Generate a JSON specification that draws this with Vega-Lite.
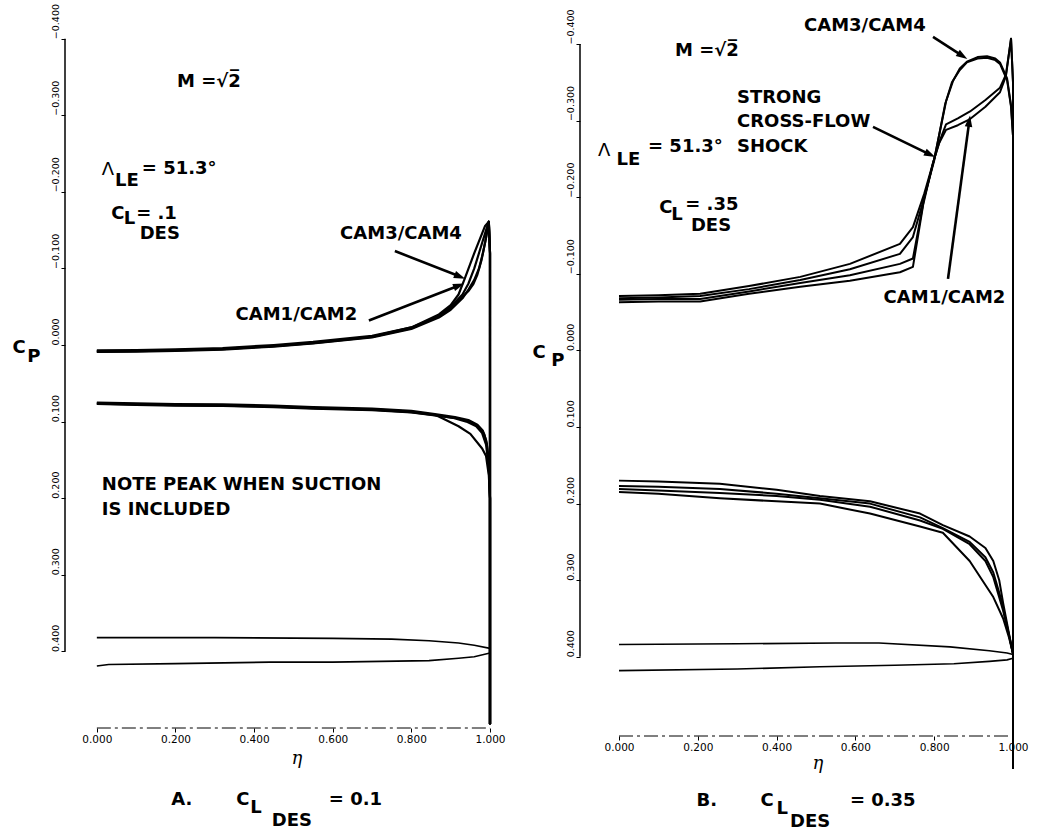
{
"$schema":"https://vega.github.io/schema/vega-lite/v6.json",
"background":"white",
"padding":{"left":12,"top":3,"right":5,"bottom":5},
"config":{"view":{"stroke":null}},
"spacing":90,
"bounds":"flush",
"datasets":{
"axesA":[{"k":"y","eta":-0.081,"cp":-0.4,"eta2":-0.081,"cp2":0.4},{"k":"x","eta":0,"cp":0.5,"eta2":1.0,"cp2":0.5}],
"axesB":[{"k":"y","eta":-0.099,"cp":-0.4,"eta2":-0.099,"cp2":0.4},{"k":"x","eta":0,"cp":0.5034,"eta2":1.0,"cp2":0.5034}],
"curvesA":[
{"s":"AU1","i":0,"eta":0,"cp":0.009},{"s":"AU1","i":1,"eta":0.1,"cp":0.0085},{"s":"AU1","i":2,"eta":0.2,"cp":0.0075},{"s":"AU1","i":3,"eta":0.32,"cp":0.006},{"s":"AU1","i":4,"eta":0.45,"cp":0.002},{"s":"AU1","i":5,"eta":0.55,"cp":-0.002},{"s":"AU1","i":6,"eta":0.7,"cp":-0.01},{"s":"AU1","i":7,"eta":0.8,"cp":-0.021},{"s":"AU1","i":8,"eta":0.87,"cp":-0.036},{"s":"AU1","i":9,"eta":0.9,"cp":-0.046},{"s":"AU1","i":10,"eta":0.93,"cp":-0.061},{"s":"AU1","i":11,"eta":0.946,"cp":-0.073},{"s":"AU1","i":12,"eta":0.96,"cp":-0.085},{"s":"AU1","i":13,"eta":0.972,"cp":-0.1},{"s":"AU1","i":14,"eta":0.982,"cp":-0.12},{"s":"AU1","i":15,"eta":0.99,"cp":-0.14},{"s":"AU1","i":16,"eta":0.997,"cp":-0.161},{"s":"AU1","i":17,"eta":1.0,"cp":-0.12},{"s":"AU1","i":18,"eta":1.0,"cp":0.495},
{"s":"AU2","i":0,"eta":0,"cp":0.007},{"s":"AU2","i":1,"eta":0.1,"cp":0.0065},{"s":"AU2","i":2,"eta":0.2,"cp":0.0055},{"s":"AU2","i":3,"eta":0.32,"cp":0.004},{"s":"AU2","i":4,"eta":0.45,"cp":0.0},{"s":"AU2","i":5,"eta":0.55,"cp":-0.004},{"s":"AU2","i":6,"eta":0.7,"cp":-0.012},{"s":"AU2","i":7,"eta":0.8,"cp":-0.023},{"s":"AU2","i":8,"eta":0.87,"cp":-0.038},{"s":"AU2","i":9,"eta":0.9,"cp":-0.048},{"s":"AU2","i":10,"eta":0.93,"cp":-0.063},{"s":"AU2","i":11,"eta":0.946,"cp":-0.071},{"s":"AU2","i":12,"eta":0.958,"cp":-0.08},{"s":"AU2","i":13,"eta":0.968,"cp":-0.092},{"s":"AU2","i":14,"eta":0.978,"cp":-0.11},{"s":"AU2","i":15,"eta":0.988,"cp":-0.135},{"s":"AU2","i":16,"eta":0.997,"cp":-0.161},{"s":"AU2","i":17,"eta":1.0,"cp":-0.12},{"s":"AU2","i":18,"eta":1.0,"cp":0.495},
{"s":"AU3","i":0,"eta":0,"cp":0.008},{"s":"AU3","i":1,"eta":0.1,"cp":0.0075},{"s":"AU3","i":2,"eta":0.2,"cp":0.0065},{"s":"AU3","i":3,"eta":0.32,"cp":0.005},{"s":"AU3","i":4,"eta":0.45,"cp":0.001},{"s":"AU3","i":5,"eta":0.55,"cp":-0.003},{"s":"AU3","i":6,"eta":0.7,"cp":-0.011},{"s":"AU3","i":7,"eta":0.8,"cp":-0.023},{"s":"AU3","i":8,"eta":0.87,"cp":-0.04},{"s":"AU3","i":9,"eta":0.9,"cp":-0.052},{"s":"AU3","i":10,"eta":0.92,"cp":-0.066},{"s":"AU3","i":11,"eta":0.936,"cp":-0.087},{"s":"AU3","i":12,"eta":0.96,"cp":-0.12},{"s":"AU3","i":13,"eta":0.987,"cp":-0.155},{"s":"AU3","i":14,"eta":0.997,"cp":-0.161},{"s":"AU3","i":15,"eta":1.0,"cp":-0.12},{"s":"AU3","i":16,"eta":1.0,"cp":0.495},
{"s":"AU4","i":0,"eta":0,"cp":0.0085},{"s":"AU4","i":1,"eta":0.1,"cp":0.008},{"s":"AU4","i":2,"eta":0.2,"cp":0.007},{"s":"AU4","i":3,"eta":0.32,"cp":0.0055},{"s":"AU4","i":4,"eta":0.45,"cp":0.0015},{"s":"AU4","i":5,"eta":0.55,"cp":-0.0025},{"s":"AU4","i":6,"eta":0.7,"cp":-0.0105},{"s":"AU4","i":7,"eta":0.8,"cp":-0.022},{"s":"AU4","i":8,"eta":0.87,"cp":-0.038},{"s":"AU4","i":9,"eta":0.9,"cp":-0.05},{"s":"AU4","i":10,"eta":0.93,"cp":-0.066},{"s":"AU4","i":11,"eta":0.945,"cp":-0.08},{"s":"AU4","i":12,"eta":0.96,"cp":-0.1},{"s":"AU4","i":13,"eta":0.975,"cp":-0.125},{"s":"AU4","i":14,"eta":0.99,"cp":-0.15},{"s":"AU4","i":15,"eta":0.997,"cp":-0.161},{"s":"AU4","i":16,"eta":1.0,"cp":-0.12},{"s":"AU4","i":17,"eta":1.0,"cp":0.495},
{"s":"AL1","i":0,"eta":0,"cp":0.076},{"s":"AL1","i":1,"eta":0.1,"cp":0.077},{"s":"AL1","i":2,"eta":0.2,"cp":0.078},{"s":"AL1","i":3,"eta":0.32,"cp":0.0785},{"s":"AL1","i":4,"eta":0.45,"cp":0.08},{"s":"AL1","i":5,"eta":0.55,"cp":0.082},{"s":"AL1","i":6,"eta":0.7,"cp":0.084},{"s":"AL1","i":7,"eta":0.8,"cp":0.087},{"s":"AL1","i":8,"eta":0.86,"cp":0.091},{"s":"AL1","i":9,"eta":0.88,"cp":0.096},{"s":"AL1","i":10,"eta":0.92,"cp":0.106},{"s":"AL1","i":11,"eta":0.95,"cp":0.116},{"s":"AL1","i":12,"eta":0.98,"cp":0.135},{"s":"AL1","i":13,"eta":0.99,"cp":0.145},{"s":"AL1","i":14,"eta":0.997,"cp":0.17},{"s":"AL1","i":15,"eta":1.0,"cp":0.2},{"s":"AL1","i":16,"eta":1.0,"cp":0.495},
{"s":"AL2","i":0,"eta":0,"cp":0.077},{"s":"AL2","i":1,"eta":0.1,"cp":0.078},{"s":"AL2","i":2,"eta":0.2,"cp":0.079},{"s":"AL2","i":3,"eta":0.32,"cp":0.0795},{"s":"AL2","i":4,"eta":0.45,"cp":0.081},{"s":"AL2","i":5,"eta":0.55,"cp":0.083},{"s":"AL2","i":6,"eta":0.7,"cp":0.085},{"s":"AL2","i":7,"eta":0.8,"cp":0.088},{"s":"AL2","i":8,"eta":0.86,"cp":0.092},{"s":"AL2","i":9,"eta":0.911,"cp":0.095},{"s":"AL2","i":10,"eta":0.94,"cp":0.099},{"s":"AL2","i":11,"eta":0.962,"cp":0.104},{"s":"AL2","i":12,"eta":0.975,"cp":0.109},{"s":"AL2","i":13,"eta":0.985,"cp":0.116},{"s":"AL2","i":14,"eta":0.992,"cp":0.129},{"s":"AL2","i":15,"eta":0.997,"cp":0.155},{"s":"AL2","i":16,"eta":1.0,"cp":0.2},{"s":"AL2","i":17,"eta":1.0,"cp":0.495},
{"s":"AL3","i":0,"eta":0,"cp":0.075},{"s":"AL3","i":1,"eta":0.1,"cp":0.076},{"s":"AL3","i":2,"eta":0.2,"cp":0.077},{"s":"AL3","i":3,"eta":0.32,"cp":0.0775},{"s":"AL3","i":4,"eta":0.45,"cp":0.079},{"s":"AL3","i":5,"eta":0.55,"cp":0.081},{"s":"AL3","i":6,"eta":0.7,"cp":0.083},{"s":"AL3","i":7,"eta":0.8,"cp":0.086},{"s":"AL3","i":8,"eta":0.86,"cp":0.09},{"s":"AL3","i":9,"eta":0.911,"cp":0.094},{"s":"AL3","i":10,"eta":0.945,"cp":0.098},{"s":"AL3","i":11,"eta":0.968,"cp":0.104},{"s":"AL3","i":12,"eta":0.982,"cp":0.112},{"s":"AL3","i":13,"eta":0.99,"cp":0.124},{"s":"AL3","i":14,"eta":0.996,"cp":0.145},{"s":"AL3","i":15,"eta":1.0,"cp":0.2},{"s":"AL3","i":16,"eta":1.0,"cp":0.495},
{"s":"AL4","i":0,"eta":0,"cp":0.0765},{"s":"AL4","i":1,"eta":0.1,"cp":0.0775},{"s":"AL4","i":2,"eta":0.2,"cp":0.0785},{"s":"AL4","i":3,"eta":0.32,"cp":0.079},{"s":"AL4","i":4,"eta":0.45,"cp":0.0805},{"s":"AL4","i":5,"eta":0.55,"cp":0.0825},{"s":"AL4","i":6,"eta":0.7,"cp":0.0845},{"s":"AL4","i":7,"eta":0.8,"cp":0.0875},{"s":"AL4","i":8,"eta":0.86,"cp":0.0915},{"s":"AL4","i":9,"eta":0.905,"cp":0.095},{"s":"AL4","i":10,"eta":0.94,"cp":0.1},{"s":"AL4","i":11,"eta":0.965,"cp":0.106},{"s":"AL4","i":12,"eta":0.98,"cp":0.115},{"s":"AL4","i":13,"eta":0.99,"cp":0.13},{"s":"AL4","i":14,"eta":0.997,"cp":0.16},{"s":"AL4","i":15,"eta":1.0,"cp":0.2},{"s":"AL4","i":16,"eta":1.0,"cp":0.495},
{"s":"AA","i":0,"eta":0,"cp":0.382},{"s":"AA","i":1,"eta":0.3,"cp":0.382},{"s":"AA","i":2,"eta":0.6,"cp":0.383},{"s":"AA","i":3,"eta":0.75,"cp":0.384},{"s":"AA","i":4,"eta":0.845,"cp":0.386},{"s":"AA","i":5,"eta":0.92,"cp":0.389},{"s":"AA","i":6,"eta":0.96,"cp":0.392},{"s":"AA","i":7,"eta":1.0,"cp":0.396},
{"s":"AB","i":0,"eta":0,"cp":0.419},{"s":"AB","i":1,"eta":0.03,"cp":0.417},{"s":"AB","i":2,"eta":0.2,"cp":0.416},{"s":"AB","i":3,"eta":0.44,"cp":0.414},{"s":"AB","i":4,"eta":0.6,"cp":0.414},{"s":"AB","i":5,"eta":0.845,"cp":0.412},{"s":"AB","i":6,"eta":0.92,"cp":0.409},{"s":"AB","i":7,"eta":0.96,"cp":0.407},{"s":"AB","i":8,"eta":1.0,"cp":0.402}
],
"curvesB":[
{"s":"BU1","i":0,"eta":0,"cp":-0.066},{"s":"BU1","i":1,"eta":0.1,"cp":-0.067},{"s":"BU1","i":2,"eta":0.206,"cp":-0.067},{"s":"BU1","i":3,"eta":0.33,"cp":-0.077},{"s":"BU1","i":4,"eta":0.46,"cp":-0.088},{"s":"BU1","i":5,"eta":0.586,"cp":-0.098},{"s":"BU1","i":6,"eta":0.713,"cp":-0.113},{"s":"BU1","i":7,"eta":0.746,"cp":-0.12},{"s":"BU1","i":8,"eta":0.775,"cp":-0.2},{"s":"BU1","i":9,"eta":0.8,"cp":-0.25},{"s":"BU1","i":10,"eta":0.815,"cp":-0.275},{"s":"BU1","i":11,"eta":0.83,"cp":-0.295},{"s":"BU1","i":12,"eta":0.86,"cp":-0.303},{"s":"BU1","i":13,"eta":0.891,"cp":-0.312},{"s":"BU1","i":14,"eta":0.93,"cp":-0.327},{"s":"BU1","i":15,"eta":0.967,"cp":-0.343},{"s":"BU1","i":16,"eta":0.982,"cp":-0.36},{"s":"BU1","i":17,"eta":0.995,"cp":-0.407},{"s":"BU1","i":18,"eta":1.0,"cp":-0.35},{"s":"BU1","i":19,"eta":1.0,"cp":0.546},
{"s":"BU2","i":0,"eta":0,"cp":-0.063},{"s":"BU2","i":1,"eta":0.1,"cp":-0.064},{"s":"BU2","i":2,"eta":0.206,"cp":-0.064},{"s":"BU2","i":3,"eta":0.33,"cp":-0.074},{"s":"BU2","i":4,"eta":0.46,"cp":-0.083},{"s":"BU2","i":5,"eta":0.586,"cp":-0.091},{"s":"BU2","i":6,"eta":0.713,"cp":-0.102},{"s":"BU2","i":7,"eta":0.746,"cp":-0.109},{"s":"BU2","i":8,"eta":0.772,"cp":-0.19},{"s":"BU2","i":9,"eta":0.797,"cp":-0.245},{"s":"BU2","i":10,"eta":0.812,"cp":-0.27},{"s":"BU2","i":11,"eta":0.83,"cp":-0.288},{"s":"BU2","i":12,"eta":0.86,"cp":-0.294},{"s":"BU2","i":13,"eta":0.891,"cp":-0.302},{"s":"BU2","i":14,"eta":0.93,"cp":-0.318},{"s":"BU2","i":15,"eta":0.967,"cp":-0.337},{"s":"BU2","i":16,"eta":0.982,"cp":-0.358},{"s":"BU2","i":17,"eta":0.995,"cp":-0.407},{"s":"BU2","i":18,"eta":1.0,"cp":-0.35},{"s":"BU2","i":19,"eta":1.0,"cp":0.546},
{"s":"BU3","i":0,"eta":0,"cp":-0.071},{"s":"BU3","i":1,"eta":0.1,"cp":-0.072},{"s":"BU3","i":2,"eta":0.206,"cp":-0.074},{"s":"BU3","i":3,"eta":0.33,"cp":-0.084},{"s":"BU3","i":4,"eta":0.46,"cp":-0.096},{"s":"BU3","i":5,"eta":0.586,"cp":-0.113},{"s":"BU3","i":6,"eta":0.713,"cp":-0.139},{"s":"BU3","i":7,"eta":0.746,"cp":-0.161},{"s":"BU3","i":8,"eta":0.775,"cp":-0.205},{"s":"BU3","i":9,"eta":0.8,"cp":-0.25},{"s":"BU3","i":10,"eta":0.815,"cp":-0.287},{"s":"BU3","i":11,"eta":0.83,"cp":-0.325},{"s":"BU3","i":12,"eta":0.848,"cp":-0.352},{"s":"BU3","i":13,"eta":0.865,"cp":-0.368},{"s":"BU3","i":14,"eta":0.883,"cp":-0.377},{"s":"BU3","i":15,"eta":0.91,"cp":-0.383},{"s":"BU3","i":16,"eta":0.934,"cp":-0.384},{"s":"BU3","i":17,"eta":0.955,"cp":-0.381},{"s":"BU3","i":18,"eta":0.967,"cp":-0.376},{"s":"BU3","i":19,"eta":0.985,"cp":-0.355},{"s":"BU3","i":20,"eta":0.995,"cp":-0.32},{"s":"BU3","i":21,"eta":1.0,"cp":-0.28},{"s":"BU3","i":22,"eta":1.0,"cp":0.546},
{"s":"BU4","i":0,"eta":0,"cp":-0.068},{"s":"BU4","i":1,"eta":0.1,"cp":-0.069},{"s":"BU4","i":2,"eta":0.206,"cp":-0.071},{"s":"BU4","i":3,"eta":0.33,"cp":-0.08},{"s":"BU4","i":4,"eta":0.46,"cp":-0.092},{"s":"BU4","i":5,"eta":0.586,"cp":-0.106},{"s":"BU4","i":6,"eta":0.713,"cp":-0.126},{"s":"BU4","i":7,"eta":0.746,"cp":-0.148},{"s":"BU4","i":8,"eta":0.775,"cp":-0.2},{"s":"BU4","i":9,"eta":0.8,"cp":-0.248},{"s":"BU4","i":10,"eta":0.812,"cp":-0.28},{"s":"BU4","i":11,"eta":0.828,"cp":-0.322},{"s":"BU4","i":12,"eta":0.845,"cp":-0.35},{"s":"BU4","i":13,"eta":0.865,"cp":-0.366},{"s":"BU4","i":14,"eta":0.883,"cp":-0.376},{"s":"BU4","i":15,"eta":0.91,"cp":-0.381},{"s":"BU4","i":16,"eta":0.934,"cp":-0.382},{"s":"BU4","i":17,"eta":0.955,"cp":-0.379},{"s":"BU4","i":18,"eta":0.967,"cp":-0.374},{"s":"BU4","i":19,"eta":0.985,"cp":-0.353},{"s":"BU4","i":20,"eta":0.995,"cp":-0.318},{"s":"BU4","i":21,"eta":1.0,"cp":-0.28},{"s":"BU4","i":22,"eta":1.0,"cp":0.546},
{"s":"BL1","i":0,"eta":0,"cp":0.17},{"s":"BL1","i":1,"eta":0.1,"cp":0.171},{"s":"BL1","i":2,"eta":0.256,"cp":0.174},{"s":"BL1","i":3,"eta":0.4,"cp":0.182},{"s":"BL1","i":4,"eta":0.51,"cp":0.19},{"s":"BL1","i":5,"eta":0.637,"cp":0.197},{"s":"BL1","i":6,"eta":0.764,"cp":0.213},{"s":"BL1","i":7,"eta":0.822,"cp":0.228},{"s":"BL1","i":8,"eta":0.89,"cp":0.243},{"s":"BL1","i":9,"eta":0.93,"cp":0.258},{"s":"BL1","i":10,"eta":0.95,"cp":0.275},{"s":"BL1","i":11,"eta":0.965,"cp":0.3},{"s":"BL1","i":12,"eta":0.975,"cp":0.33},{"s":"BL1","i":13,"eta":0.99,"cp":0.37},{"s":"BL1","i":14,"eta":1.0,"cp":0.396},{"s":"BL1","i":15,"eta":1.0,"cp":0.546},
{"s":"BL2","i":0,"eta":0,"cp":0.177},{"s":"BL2","i":1,"eta":0.1,"cp":0.178},{"s":"BL2","i":2,"eta":0.256,"cp":0.181},{"s":"BL2","i":3,"eta":0.4,"cp":0.187},{"s":"BL2","i":4,"eta":0.51,"cp":0.193},{"s":"BL2","i":5,"eta":0.637,"cp":0.2},{"s":"BL2","i":6,"eta":0.764,"cp":0.218},{"s":"BL2","i":7,"eta":0.822,"cp":0.232},{"s":"BL2","i":8,"eta":0.89,"cp":0.25},{"s":"BL2","i":9,"eta":0.93,"cp":0.27},{"s":"BL2","i":10,"eta":0.95,"cp":0.29},{"s":"BL2","i":11,"eta":0.97,"cp":0.325},{"s":"BL2","i":12,"eta":0.985,"cp":0.36},{"s":"BL2","i":13,"eta":1.0,"cp":0.396},{"s":"BL2","i":14,"eta":1.0,"cp":0.546},
{"s":"BL3","i":0,"eta":0,"cp":0.181},{"s":"BL3","i":1,"eta":0.1,"cp":0.183},{"s":"BL3","i":2,"eta":0.256,"cp":0.186},{"s":"BL3","i":3,"eta":0.4,"cp":0.19},{"s":"BL3","i":4,"eta":0.51,"cp":0.195},{"s":"BL3","i":5,"eta":0.637,"cp":0.204},{"s":"BL3","i":6,"eta":0.764,"cp":0.222},{"s":"BL3","i":7,"eta":0.822,"cp":0.233},{"s":"BL3","i":8,"eta":0.89,"cp":0.253},{"s":"BL3","i":9,"eta":0.93,"cp":0.275},{"s":"BL3","i":10,"eta":0.95,"cp":0.296},{"s":"BL3","i":11,"eta":0.975,"cp":0.34},{"s":"BL3","i":12,"eta":0.99,"cp":0.372},{"s":"BL3","i":13,"eta":1.0,"cp":0.396},{"s":"BL3","i":14,"eta":1.0,"cp":0.546},
{"s":"BL4","i":0,"eta":0,"cp":0.185},{"s":"BL4","i":1,"eta":0.1,"cp":0.187},{"s":"BL4","i":2,"eta":0.256,"cp":0.193},{"s":"BL4","i":3,"eta":0.4,"cp":0.197},{"s":"BL4","i":4,"eta":0.51,"cp":0.2},{"s":"BL4","i":5,"eta":0.637,"cp":0.213},{"s":"BL4","i":6,"eta":0.764,"cp":0.23},{"s":"BL4","i":7,"eta":0.822,"cp":0.238},{"s":"BL4","i":8,"eta":0.89,"cp":0.275},{"s":"BL4","i":9,"eta":0.95,"cp":0.322},{"s":"BL4","i":10,"eta":0.975,"cp":0.35},{"s":"BL4","i":11,"eta":0.99,"cp":0.375},{"s":"BL4","i":12,"eta":1.0,"cp":0.396},{"s":"BL4","i":13,"eta":1.0,"cp":0.546},
{"s":"BA","i":0,"eta":0,"cp":0.384},{"s":"BA","i":1,"eta":0.3,"cp":0.383},{"s":"BA","i":2,"eta":0.55,"cp":0.382},{"s":"BA","i":3,"eta":0.66,"cp":0.382},{"s":"BA","i":4,"eta":0.84,"cp":0.387},{"s":"BA","i":5,"eta":0.94,"cp":0.392},{"s":"BA","i":6,"eta":0.985,"cp":0.395},{"s":"BA","i":7,"eta":1.0,"cp":0.397},
{"s":"BB","i":0,"eta":0,"cp":0.418},{"s":"BB","i":1,"eta":0.3,"cp":0.416},{"s":"BB","i":2,"eta":0.51,"cp":0.413},{"s":"BB","i":3,"eta":0.7,"cp":0.411},{"s":"BB","i":4,"eta":0.85,"cp":0.409},{"s":"BB","i":5,"eta":0.94,"cp":0.406},{"s":"BB","i":6,"eta":0.985,"cp":0.404},{"s":"BB","i":7,"eta":1.0,"cp":0.402}
],
"arrowsA":[{"a":"L1","eta":0.758,"cp":-0.1227,"eta2":0.922,"cp2":-0.0897},{"a":"L2","eta":0.692,"cp":-0.032,"eta2":0.9196,"cp2":-0.0774}],
"arrowsB":[{"a":"R1","eta":0.797,"cp":-0.4093,"eta2":0.8706,"cp2":-0.3849},{"a":"R2","eta":0.6447,"cp":-0.2918,"eta2":0.7883,"cp2":-0.256},{"a":"R3","eta":0.835,"cp":-0.0933,"eta2":0.8888,"cp2":-0.2984}],
"headsA":[{"a":"L1","eta":0.922,"cp":-0.0897},{"a":"L2","eta":0.9196,"cp":-0.0774}],
"headsB":[{"a":"R1","eta":0.8706,"cp":-0.3849},{"a":"R2","eta":0.7883,"cp":-0.256},{"a":"R3","eta":0.8888,"cp":-0.2984}],
"textA":[
{"r":"M","t":"M =√2̅","eta":0.285,"cp":-0.344},
{"r":"sym","t":"Λ","eta":0.028,"cp":-0.228},
{"r":"sub","t":"LE","eta":0.0763,"cp":-0.2147},
{"r":"eq","t":"= 51.3°","eta":0.1145,"cp":-0.2304},
{"r":"bigC","t":"C","eta":0.0534,"cp":-0.1717},
{"r":"sub","t":"L","eta":0.0827,"cp":-0.1651},
{"r":"eq","t":"= .1","eta":0.1,"cp":-0.1714},
{"r":"des","t":"DES","eta":0.16,"cp":-0.145},
{"r":"cam","t":"CAM3/CAM4","eta":0.7735,"cp":-0.1456},
{"r":"cam","t":"CAM1/CAM2","eta":0.5076,"cp":-0.0392},
{"r":"note","t":"NOTE PEAK WHEN SUCTION","eta":0.0127,"cp":0.1828},
{"r":"note","t":"IS INCLUDED","eta":0.0127,"cp":0.2154},
{"r":"bigC","t":"C","eta":-0.198,"cp":0.0045},
{"r":"sub","t":"P","eta":-0.16,"cp":0.0155},
{"r":"eta","t":"η","eta":0.509,"cp":0.54},
{"r":"cap","t":"A.","eta":0.2163,"cp":0.5946},
{"r":"cap","t":"C","eta":0.3715,"cp":0.5946},
{"r":"capL","t":"L","eta":0.4046,"cp":0.605},
{"r":"cap","t":"DES","eta":0.496,"cp":0.622},
{"r":"capEq","t":"= 0.1","eta":0.59,"cp":0.5946}
],
"textB":[
{"r":"M","t":"M =√2̅","eta":0.223,"cp":-0.391},
{"r":"note","t":"STRONG","eta":0.2995,"cp":-0.3296},
{"r":"note","t":"CROSS-FLOW","eta":0.2995,"cp":-0.2977},
{"r":"note","t":"SHOCK","eta":0.2995,"cp":-0.265},
{"r":"sym","t":"Λ","eta":-0.038,"cp":-0.26},
{"r":"sub","t":"LE","eta":0.024,"cp":-0.249},
{"r":"eq","t":"= 51.3°","eta":0.0736,"cp":-0.265},
{"r":"bigC","t":"C","eta":0.119,"cp":-0.186},
{"r":"sub","t":"L","eta":0.147,"cp":-0.177},
{"r":"eq","t":"= .35","eta":0.168,"cp":-0.19},
{"r":"des","t":"DES","eta":0.2335,"cp":-0.162},
{"r":"cam","t":"CAM3/CAM4","eta":0.624,"cp":-0.424},
{"r":"cam","t":"CAM1/CAM2","eta":0.826,"cp":-0.069},
{"r":"bigC","t":"C","eta":-0.203,"cp":0.003},
{"r":"sub","t":"P","eta":-0.155,"cp":0.014},
{"r":"eta","t":"η","eta":0.505,"cp":0.54},
{"r":"cap","t":"B.","eta":0.223,"cp":0.588},
{"r":"cap","t":"C","eta":0.376,"cp":0.588},
{"r":"capL","t":"L","eta":0.414,"cp":0.5985},
{"r":"cap","t":"DES","eta":0.485,"cp":0.6155},
{"r":"capEq","t":"= 0.35","eta":0.586,"cp":0.588}
]
},
"hconcat":[
{
"width":425,"height":697,
"encoding":{
"x":{"field":"eta","type":"quantitative","title":null,"scale":{"domain":[-0.081,1.0],"nice":false,"zero":false},"axis":{"values":[0,0.2,0.4,0.6,0.8,1],"format":".3f","domain":false,"grid":false,"tickSize":4,"tickColor":"black","labelFontSize":10.5,"labelFont":"DejaVu Sans","labelColor":"black","labelPadding":2,"labelFlush":false,"labelOverlap":false}},
"y":{"field":"cp","type":"quantitative","title":null,"scale":{"domain":[-0.41,0.5],"reverse":true,"nice":false,"zero":false},"axis":{"values":[-0.4,-0.3,-0.2,-0.1,0,0.1,0.2,0.3,0.4],"format":".3f","domain":false,"grid":false,"tickSize":4,"tickColor":"black","labelAngle":270,"labelAlign":"left","labelBaseline":"middle","labelFontSize":9.5,"labelPadding":6,"labelFont":"DejaVu Sans","labelColor":"black","labelFlush":false,"labelOverlap":false}}
},
"layer":[
{"data":{"name":"axesA"},"transform":[{"filter":"datum.k=='y'"}],"mark":{"type":"rule","color":"black","strokeWidth":1.5},"encoding":{"x2":{"field":"eta2"},"y2":{"field":"cp2"}}},
{"data":{"name":"axesA"},"transform":[{"filter":"datum.k=='x'"}],"mark":{"type":"rule","color":"black","strokeWidth":1,"strokeDash":[14,4,3,4]},"encoding":{"x2":{"field":"eta2"},"y2":{"field":"cp2"}}},
{"data":{"name":"curvesA"},"transform":[{"filter":"indexof(['AA','AB'],datum.s)<0"}],"mark":{"type":"line","color":"black","strokeWidth":2.2,"strokeJoin":"round"},"encoding":{"detail":{"field":"s"},"order":{"field":"i","type":"quantitative"}}},
{"data":{"name":"curvesA"},"transform":[{"filter":"indexof(['AA','AB'],datum.s)>=0"}],"mark":{"type":"line","color":"black","strokeWidth":1.6},"encoding":{"detail":{"field":"s"},"order":{"field":"i","type":"quantitative"}}},
{"data":{"name":"arrowsA"},"mark":{"type":"rule","color":"black","strokeWidth":2.6},"encoding":{"x2":{"field":"eta2"},"y2":{"field":"cp2"}}},
{"data":{"name":"headsA"},"transform":[{"filter":"datum.a=='L1'"}],"mark":{"type":"point","shape":"M0,-1L0.6,0.8L-0.6,0.8Z","filled":true,"size":160,"angle":111.8,"color":"black","opacity":1,"strokeWidth":0}},
{"data":{"name":"headsA"},"transform":[{"filter":"datum.a=='L2'"}],"mark":{"type":"point","shape":"M0,-1L0.6,0.8L-0.6,0.8Z","filled":true,"size":160,"angle":68.7,"color":"black","opacity":1,"strokeWidth":0}},
{"data":{"name":"textA"},"transform":[{"filter":"indexof(['note','eq','capEq'],datum.r)>=0"}],"mark":{"type":"text","font":"DejaVu Sans","fontWeight":"bold","align":"left","baseline":"middle","color":"black"},"encoding":{"text":{"field":"t"},"size":{"field":"r","type":"ordinal","scale":{"domain":["cam","note","eq","sym","sub","des","bigC","M","eta","cap","capL","capEq"],"range":[18,18,15,17,14,15,18,17,17,22,16,22]},"legend":null}}},
{"data":{"name":"textA"},"transform":[{"filter":"indexof(['cam','sub','des','bigC','M','cap','capL'],datum.r)>=0"}],"mark":{"type":"text","font":"DejaVu Sans","fontWeight":"bold","align":"center","baseline":"middle","color":"black"},"encoding":{"text":{"field":"t"},"size":{"field":"r","type":"ordinal","scale":{"domain":["cam","note","eq","sym","sub","des","bigC","M","eta","cap","capL","capEq"],"range":[18,18,15,17,14,15,18,17,17,22,16,22]},"legend":null}}},
{"data":{"name":"textA"},"transform":[{"filter":"datum.r=='sym'"}],"mark":{"type":"text","font":"DejaVu Sans","align":"center","baseline":"middle","color":"black"},"encoding":{"text":{"field":"t"},"size":{"field":"r","type":"ordinal","scale":{"domain":["cam","note","eq","sym","sub","des","bigC","M","eta","cap","capL","capEq"],"range":[18,18,15,17,14,15,18,17,17,22,16,22]},"legend":null}}},
{"data":{"name":"textA"},"transform":[{"filter":"datum.r=='eta'"}],"mark":{"type":"text","font":"DejaVu Serif","fontStyle":"italic","align":"center","baseline":"middle","color":"black"},"encoding":{"text":{"field":"t"},"size":{"field":"r","type":"ordinal","scale":{"domain":["cam","note","eq","sym","sub","des","bigC","M","eta","cap","capL","capEq"],"range":[18,18,15,17,14,15,18,17,17,22,16,22]},"legend":null}}}
]
},
{
"width":433,"height":705,
"encoding":{
"x":{"field":"eta","type":"quantitative","title":null,"scale":{"domain":[-0.099,1.0],"nice":false,"zero":false},"axis":{"values":[0,0.2,0.4,0.6,0.8,1],"format":".3f","domain":false,"grid":false,"tickSize":4,"tickColor":"black","labelFontSize":10.5,"labelFont":"DejaVu Sans","labelColor":"black","labelPadding":2,"labelFlush":false,"labelOverlap":false}},
"y":{"field":"cp","type":"quantitative","title":null,"scale":{"domain":[-0.417,0.5034],"reverse":true,"nice":false,"zero":false},"axis":{"values":[-0.4,-0.3,-0.2,-0.1,0,0.1,0.2,0.3,0.4],"format":".3f","domain":false,"grid":false,"tickSize":4,"tickColor":"black","labelAngle":270,"labelAlign":"left","labelBaseline":"middle","labelFontSize":9.5,"labelPadding":6,"labelFont":"DejaVu Sans","labelColor":"black","labelFlush":false,"labelOverlap":false}}
},
"layer":[
{"data":{"name":"axesB"},"transform":[{"filter":"datum.k=='y'"}],"mark":{"type":"rule","color":"black","strokeWidth":1.5},"encoding":{"x2":{"field":"eta2"},"y2":{"field":"cp2"}}},
{"data":{"name":"axesB"},"transform":[{"filter":"datum.k=='x'"}],"mark":{"type":"rule","color":"black","strokeWidth":1,"strokeDash":[14,4,3,4]},"encoding":{"x2":{"field":"eta2"},"y2":{"field":"cp2"}}},
{"data":{"name":"curvesB"},"transform":[{"filter":"indexof(['BA','BB'],datum.s)<0"}],"mark":{"type":"line","color":"black","strokeWidth":2.0,"strokeJoin":"round"},"encoding":{"detail":{"field":"s"},"order":{"field":"i","type":"quantitative"}}},
{"data":{"name":"curvesB"},"transform":[{"filter":"indexof(['BA','BB'],datum.s)>=0"}],"mark":{"type":"line","color":"black","strokeWidth":1.6},"encoding":{"detail":{"field":"s"},"order":{"field":"i","type":"quantitative"}}},
{"data":{"name":"arrowsB"},"mark":{"type":"rule","color":"black","strokeWidth":2.6},"encoding":{"x2":{"field":"eta2"},"y2":{"field":"cp2"}}},
{"data":{"name":"headsB"},"transform":[{"filter":"datum.a=='R1'"}],"mark":{"type":"point","shape":"M0,-1L0.6,0.8L-0.6,0.8Z","filled":true,"size":160,"angle":122.9,"color":"black","opacity":1,"strokeWidth":0}},
{"data":{"name":"headsB"},"transform":[{"filter":"datum.a=='R2'"}],"mark":{"type":"point","shape":"M0,-1L0.6,0.8L-0.6,0.8Z","filled":true,"size":160,"angle":115.8,"color":"black","opacity":1,"strokeWidth":0}},
{"data":{"name":"headsB"},"transform":[{"filter":"datum.a=='R3'"}],"mark":{"type":"point","shape":"M0,-1L0.6,0.8L-0.6,0.8Z","filled":true,"size":160,"angle":7.7,"color":"black","opacity":1,"strokeWidth":0}},
{"data":{"name":"textB"},"transform":[{"filter":"indexof(['note','eq','capEq'],datum.r)>=0"}],"mark":{"type":"text","font":"DejaVu Sans","fontWeight":"bold","align":"left","baseline":"middle","color":"black"},"encoding":{"text":{"field":"t"},"size":{"field":"r","type":"ordinal","scale":{"domain":["cam","note","eq","sym","sub","des","bigC","M","eta","cap","capL","capEq"],"range":[18,18,15,17,14,15,18,17,17,22,16,22]},"legend":null}}},
{"data":{"name":"textB"},"transform":[{"filter":"indexof(['cam','sub','des','bigC','M','cap','capL'],datum.r)>=0"}],"mark":{"type":"text","font":"DejaVu Sans","fontWeight":"bold","align":"center","baseline":"middle","color":"black"},"encoding":{"text":{"field":"t"},"size":{"field":"r","type":"ordinal","scale":{"domain":["cam","note","eq","sym","sub","des","bigC","M","eta","cap","capL","capEq"],"range":[18,18,15,17,14,15,18,17,17,22,16,22]},"legend":null}}},
{"data":{"name":"textB"},"transform":[{"filter":"datum.r=='sym'"}],"mark":{"type":"text","font":"DejaVu Sans","align":"center","baseline":"middle","color":"black"},"encoding":{"text":{"field":"t"},"size":{"field":"r","type":"ordinal","scale":{"domain":["cam","note","eq","sym","sub","des","bigC","M","eta","cap","capL","capEq"],"range":[18,18,15,17,14,15,18,17,17,22,16,22]},"legend":null}}},
{"data":{"name":"textB"},"transform":[{"filter":"datum.r=='eta'"}],"mark":{"type":"text","font":"DejaVu Serif","fontStyle":"italic","align":"center","baseline":"middle","color":"black"},"encoding":{"text":{"field":"t"},"size":{"field":"r","type":"ordinal","scale":{"domain":["cam","note","eq","sym","sub","des","bigC","M","eta","cap","capL","capEq"],"range":[18,18,15,17,14,15,18,17,17,22,16,22]},"legend":null}}}
]
}
]
}
